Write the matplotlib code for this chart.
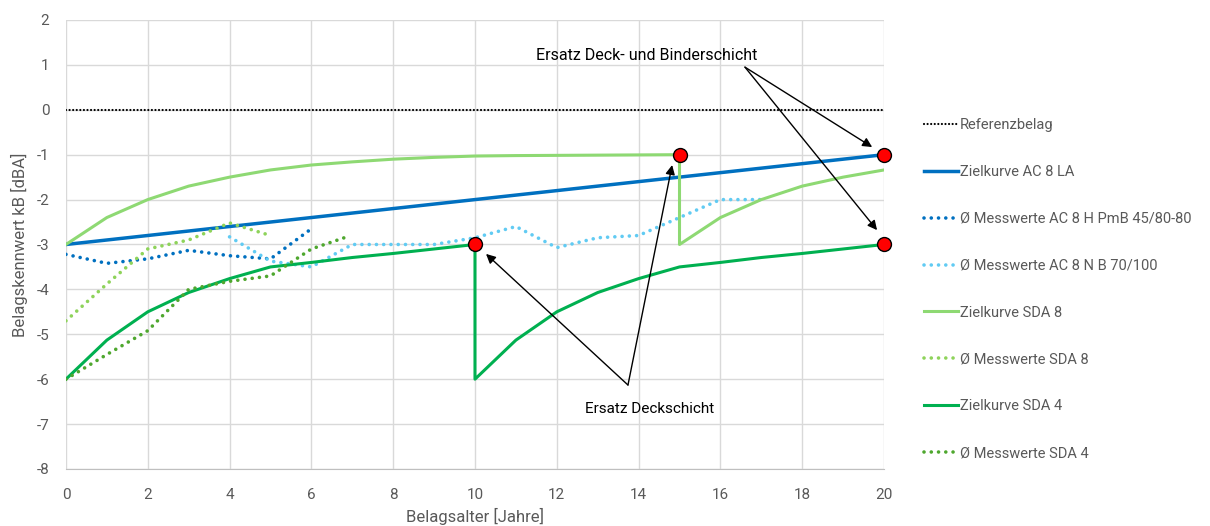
import matplotlib.pyplot as plt
import numpy as np

plt.rcParams['font.family'] = ['Roboto', 'DejaVu Sans']
plt.rcParams['axes.unicode_minus'] = False

# Referenzbelag
ref_x = [0, 20]
ref_y = [0, 0]

# Zielkurve AC 8 LA
ac8la_x = [0, 20]
ac8la_y = [-3, -1]

# Ø Messwerte AC 8 H PmB 45/80-80
ac8h_x = [0, 1, 2, 3, 4, 5, 6]
ac8h_y = [-3.22, -3.42, -3.32, -3.13, -3.25, -3.32, -2.65]

# Ø Messwerte AC 8 N B 70/100
ac8n_x = [4, 5, 6, 7, 8, 9, 10, 11, 12, 13, 14, 15, 16, 17]
ac8n_y = [-2.83, -3.37, -3.5, -3.0, -3.0, -3.0, -2.85, -2.6, -3.07, -2.85, -2.8, -2.4, -2.0, -2.0]

# Zielkurve SDA 8
sda8_x = [0, 1, 2, 3, 4, 5, 6, 7, 8, 9, 10, 11, 12, 13, 14, 15, 15, 16, 17, 18, 19, 20]
sda8_y = [-3, -2.4, -2.0, -1.7, -1.5, -1.34, -1.23, -1.16, -1.1, -1.06, -1.03,
          -1.02, -1.015, -1.01, -1.005, -1.0, -3, -2.4, -2.0, -1.7, -1.5, -1.34]

# Ø Messwerte SDA 8
sda8m_x = [0, 1, 2, 3, 4, 5]
sda8m_y = [-4.7, -3.88, -3.1, -2.9, -2.52, -2.8]

# Zielkurve SDA 4
sda4_x = [0, 1, 2, 3, 4, 5, 6, 7, 8, 9, 10, 10, 11, 12, 13, 14, 15, 16, 17, 18, 19, 20]
sda4_y = [-6, -5.13, -4.5, -4.07, -3.76, -3.5, -3.4, -3.29, -3.2, -3.1, -3.0,
          -6, -5.13, -4.5, -4.07, -3.76, -3.5, -3.4, -3.29, -3.2, -3.1, -3.0]

# Ø Messwerte SDA 4
sda4m_x = [0, 1, 2, 3, 4, 5, 6, 6.9]
sda4m_y = [-6.0, -5.45, -4.92, -4.0, -3.82, -3.7, -3.1, -2.82]

# Ersatz-Zeitpunkte
mark_x = [10, 15, 20, 20]
mark_y = [-3, -1, -1, -3]

grey = '#595959'
dot = (0, (0.01, 2.0))

fig = plt.figure(figsize=(12.1, 5.26), dpi=100)
ax = fig.add_axes([0.0545, 0.1084, 0.6761, 0.8536])

ax.plot(ref_x, ref_y, color='black', lw=1.6, linestyle=(0, (0.01, 1.6)),
        dash_capstyle='round', label='Referenzbelag')
ax.plot(ac8la_x, ac8la_y, color='#0070C0', lw=2.5, label='Zielkurve AC 8 LA')
ax.plot(ac8h_x, ac8h_y, color='#0070C0', lw=2.6, linestyle=dot, dash_capstyle='round',
        label='Ø Messwerte AC 8 H PmB 45/80-80')
ax.plot(ac8n_x, ac8n_y, color='#61CBF3', lw=2.6, linestyle=dot, dash_capstyle='round',
        label='Ø Messwerte AC 8 N B 70/100')
ax.plot(sda8_x, sda8_y, color='#8ED973', lw=2.2, label='Zielkurve SDA 8')
ax.plot(sda8m_x, sda8m_y, color='#8ED35A', lw=2.6, linestyle=dot, dash_capstyle='round',
        label='Ø Messwerte SDA 8')
ax.plot(sda4_x, sda4_y, color='#00B050', lw=2.2, label='Zielkurve SDA 4')
ax.plot(sda4m_x, sda4m_y, color='#4EA72E', lw=2.6, linestyle=dot, dash_capstyle='round',
        label='Ø Messwerte SDA 4')

ax.plot(mark_x, mark_y, 'o', color='red', markeredgecolor='black', markersize=10,
        markeredgewidth=1, linestyle='none', zorder=5, clip_on=False)

arrow = dict(arrowstyle='-|>', color='black', lw=1, mutation_scale=14, shrinkA=0, shrinkB=0)
ax.annotate('', xy=(10.27, -3.21), xytext=(13.74, -6.13), arrowprops=arrow)
ax.annotate('', xy=(14.82, -1.23), xytext=(13.74, -6.13), arrowprops=arrow)
ax.text(14.28, -6.66, 'Ersatz Deckschicht', ha='center', va='center', fontsize=11)

ax.annotate('', xy=(19.71, -0.83), xytext=(16.6, 0.95), arrowprops=arrow)
ax.annotate('', xy=(19.83, -2.68), xytext=(16.6, 0.95), arrowprops=arrow)
ax.text(14.2, 1.2, 'Ersatz Deck- und Binderschicht', ha='center', va='center', fontsize=11.5)

ax.set_xlim(0, 20)
ax.set_ylim(-8, 2)
ax.set_xticks(np.arange(0, 21, 2))
ax.set_yticks(np.arange(-8, 3, 1))
ax.grid(True, color='#D9D9D9', lw=1)
ax.set_axisbelow(True)
for s in ['top', 'right', 'left']:
    ax.spines[s].set_visible(False)
ax.spines['bottom'].set_color('#BFBFBF')
ax.tick_params(length=0, labelsize=11, colors=grey)
ax.tick_params(axis='x', pad=14)
ax.tick_params(axis='y', pad=12)
ax.set_xlabel('Belagsalter [Jahre]', fontsize=12, color=grey, labelpad=4)
ax.set_ylabel('Belagskennwert kB [dBA]', fontsize=12, color=grey, labelpad=6)

fig.legend(loc='upper left', bbox_to_anchor=(0.753, 0.80), frameon=False,
           fontsize=10.5, labelcolor=grey, labelspacing=2.25, handlelength=2.3,
           handletextpad=0.15)

fig.savefig('out.png', dpi=100)
